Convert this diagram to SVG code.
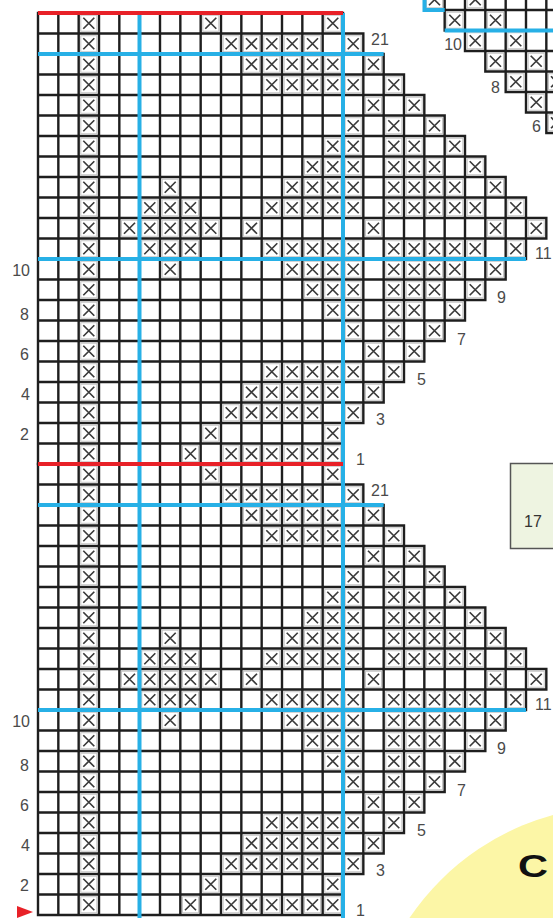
<svg xmlns="http://www.w3.org/2000/svg" width="553" height="918" viewBox="0 0 553 918">
<style>
.grid{fill:none;stroke:#1e1e1e;stroke-width:2.4;stroke-linecap:square}
.xm{fill:none;stroke:#3a3a3a;stroke-width:1.7}
.xb{fill:none;stroke:#c6c6c6;stroke-width:1}
.blue{fill:none;stroke:#27b0e6;stroke-width:4}
.red{fill:none;stroke:#e82128;stroke-width:4}
.lbl{font-family:"Liberation Sans",Arial,sans-serif;font-size:16px;fill:#4a4a4a}
.end{text-anchor:end}
</style>
<defs>
<g id="x"><rect class="xb" x="-8" y="-8" width="16" height="16"/><path class="xm" d="M-5.5 -5.5L5.5 5.5M5.5 -5.5L-5.5 5.5"/></g>
<g id="p1"><use href="#x" x="88.8"/><use href="#x" x="190.5"/><use href="#x" x="231.2"/><use href="#x" x="251.5"/><use href="#x" x="271.8"/><use href="#x" x="292.2"/><use href="#x" x="312.5"/><use href="#x" x="332.8"/></g>
<g id="p2"><use href="#x" x="88.8"/><use href="#x" x="210.8"/><use href="#x" x="332.8"/></g>
<g id="p3"><use href="#x" x="88.8"/><use href="#x" x="231.2"/><use href="#x" x="251.5"/><use href="#x" x="271.8"/><use href="#x" x="292.2"/><use href="#x" x="312.5"/><use href="#x" x="353.2"/></g>
<g id="p4"><use href="#x" x="88.8"/><use href="#x" x="251.5"/><use href="#x" x="271.8"/><use href="#x" x="292.2"/><use href="#x" x="312.5"/><use href="#x" x="332.8"/><use href="#x" x="373.5"/></g>
<g id="p5"><use href="#x" x="88.8"/><use href="#x" x="271.8"/><use href="#x" x="292.2"/><use href="#x" x="312.5"/><use href="#x" x="332.8"/><use href="#x" x="353.2"/><use href="#x" x="393.8"/></g>
<g id="p6"><use href="#x" x="88.8"/><use href="#x" x="373.5"/><use href="#x" x="414.2"/></g>
<g id="p7"><use href="#x" x="88.8"/><use href="#x" x="353.2"/><use href="#x" x="393.8"/><use href="#x" x="434.5"/></g>
<g id="p8"><use href="#x" x="88.8"/><use href="#x" x="332.8"/><use href="#x" x="353.2"/><use href="#x" x="393.8"/><use href="#x" x="414.2"/><use href="#x" x="454.8"/></g>
<g id="p9"><use href="#x" x="88.8"/><use href="#x" x="312.5"/><use href="#x" x="332.8"/><use href="#x" x="353.2"/><use href="#x" x="393.8"/><use href="#x" x="414.2"/><use href="#x" x="434.5"/><use href="#x" x="475.2"/></g>
<g id="p10"><use href="#x" x="88.8"/><use href="#x" x="170.2"/><use href="#x" x="292.2"/><use href="#x" x="312.5"/><use href="#x" x="332.8"/><use href="#x" x="353.2"/><use href="#x" x="393.8"/><use href="#x" x="414.2"/><use href="#x" x="434.5"/><use href="#x" x="454.8"/><use href="#x" x="495.5"/></g>
<g id="p11"><use href="#x" x="88.8"/><use href="#x" x="149.8"/><use href="#x" x="170.2"/><use href="#x" x="190.5"/><use href="#x" x="271.8"/><use href="#x" x="292.2"/><use href="#x" x="312.5"/><use href="#x" x="332.8"/><use href="#x" x="353.2"/><use href="#x" x="393.8"/><use href="#x" x="414.2"/><use href="#x" x="434.5"/><use href="#x" x="454.8"/><use href="#x" x="475.2"/><use href="#x" x="515.8"/></g>
<g id="p12"><use href="#x" x="88.8"/><use href="#x" x="129.5"/><use href="#x" x="149.8"/><use href="#x" x="170.2"/><use href="#x" x="190.5"/><use href="#x" x="210.8"/><use href="#x" x="251.5"/><use href="#x" x="373.5"/><use href="#x" x="495.5"/><use href="#x" x="536.2"/></g>
<g id="sec">
<path class="grid" d="M38 13H343M38 33.5H363.33M38 54H383.67M38 74.5H404M38 95H424.33M38 115.5H444.67M38 136H465M38 156.5H485.33M38 177H505.67M38 197.5H526M38 218H546.33M38 238.5H546.33M38 259H526M38 279.5H505.67M38 300H485.33M38 320.5H465M38 341H444.67M38 361.5H424.33M38 382H404M38 402.5H383.67M38 423H363.33M38 443.5H343M38 464H343M38 13V464M58.33 13V464M78.67 13V464M99 13V464M119.33 13V464M139.67 13V464M160 13V464M180.33 13V464M200.67 13V464M221 13V464M241.33 13V464M261.67 13V464M282 13V464M302.33 13V464M322.67 13V464M343 13V464M363.33 33.5V423M383.67 54V402.5M404 74.5V382M424.33 95V361.5M444.67 115.5V341M465 136V320.5M485.33 156.5V300M505.67 177V279.5M526 197.5V259M546.33 218V238.5"/>
<use href="#p2" y="23.25"/><use href="#p3" y="43.75"/><use href="#p4" y="64.25"/><use href="#p5" y="84.75"/><use href="#p6" y="105.25"/><use href="#p7" y="125.75"/><use href="#p8" y="146.25"/><use href="#p9" y="166.75"/><use href="#p10" y="187.25"/><use href="#p11" y="207.75"/><use href="#p12" y="228.25"/><use href="#p11" y="248.75"/><use href="#p10" y="269.25"/><use href="#p9" y="289.75"/><use href="#p8" y="310.25"/><use href="#p7" y="330.75"/><use href="#p6" y="351.25"/><use href="#p5" y="371.75"/><use href="#p4" y="392.25"/><use href="#p3" y="412.75"/><use href="#p2" y="433.25"/><use href="#p1" y="453.75"/>
</g>
</defs>
<rect width="553" height="918" fill="#ffffff"/>
<g id="corner-badge">
<circle cx="620" cy="1060" r="254" fill="#fcf6a6"/>
<text transform="translate(518,877) scale(1.3,1)" x="0" y="0" style="font-family:'Liberation Sans',Arial,sans-serif;font-size:32px;font-weight:bold;fill:#111">C</text>
</g>
<g id="fragment">
<path class="grid" d="M424.33 10H560M444.67 30.5H560M465 51H560M485.33 71.5H560M505.67 92H560M526 112.5H560M546.33 133H560M424.33 -12V10M444.67 -12V30.5M465 -12V51M485.33 -12V71.5M505.67 -12V92M526 -12V112.5M546.33 -12V133"/>
<use href="#x" x="434.5" y="-0.25"/><use href="#x" x="475.2" y="-0.25"/>
<use href="#x" x="454.8" y="20.25"/><use href="#x" x="495.5" y="20.25"/>
<use href="#x" x="475.2" y="40.75"/><use href="#x" x="515.8" y="40.75"/>
<use href="#x" x="495.5" y="61.25"/><use href="#x" x="536.2" y="61.25"/>
<use href="#x" x="515.8" y="81.75"/><use href="#x" x="556.5" y="81.75"/>
<use href="#x" x="536.2" y="102.25"/>
<use href="#x" x="556.5" y="122.75"/>
<path class="blue" d="M424.5 -2V10H444.67M444.67 30.5H560"/>
<text class="lbl end" x="462" y="50">10</text>
<text class="lbl end" x="500" y="93">8</text>
<text class="lbl end" x="541" y="132">6</text>
</g>
<g id="chart-top">
<use href="#sec"/>
</g>
<g id="chart-bottom">
<use href="#sec" y="451"/>
</g>
<g id="guide-lines">
<path class="blue" d="M139.5 13V918M343 13V918M38 54H383.67M38 259H526M38 505H383.67M38 710H526"/>
<path class="red" d="M38 13H343M38 464H343"/>
<polygon points="17,906 33,912 17,918" fill="#e82128"/>
</g>
<g id="labels-top">
<text class="lbl" x="371" y="45">21</text>
<text class="lbl" x="535" y="259">11</text>
<text class="lbl" x="497" y="303">9</text>
<text class="lbl" x="457" y="345">7</text>
<text class="lbl" x="417" y="385">5</text>
<text class="lbl" x="376" y="425">3</text>
<text class="lbl" x="356" y="465">1</text>
<text class="lbl end" x="30" y="276">10</text>
<text class="lbl end" x="29" y="320">8</text>
<text class="lbl end" x="29" y="360">6</text>
<text class="lbl end" x="30" y="400">4</text>
<text class="lbl end" x="29" y="440">2</text>
</g>
<g id="labels-bottom">
<text class="lbl" x="371" y="496">21</text>
<text class="lbl" x="535" y="710">11</text>
<text class="lbl" x="497" y="754">9</text>
<text class="lbl" x="457" y="796">7</text>
<text class="lbl" x="417" y="836">5</text>
<text class="lbl" x="376" y="876">3</text>
<text class="lbl" x="356" y="916">1</text>
<text class="lbl end" x="30" y="727">10</text>
<text class="lbl end" x="29" y="771">8</text>
<text class="lbl end" x="29" y="811">6</text>
<text class="lbl end" x="30" y="851">4</text>
<text class="lbl end" x="29" y="891">2</text>
</g>
<g id="legend-box">
<rect x="510.5" y="463.5" width="50" height="85" fill="#eef4e1" stroke="#555555" stroke-width="1.5"/>
<text class="lbl" x="524" y="527" style="fill:#333">17</text>
</g>
</svg>
